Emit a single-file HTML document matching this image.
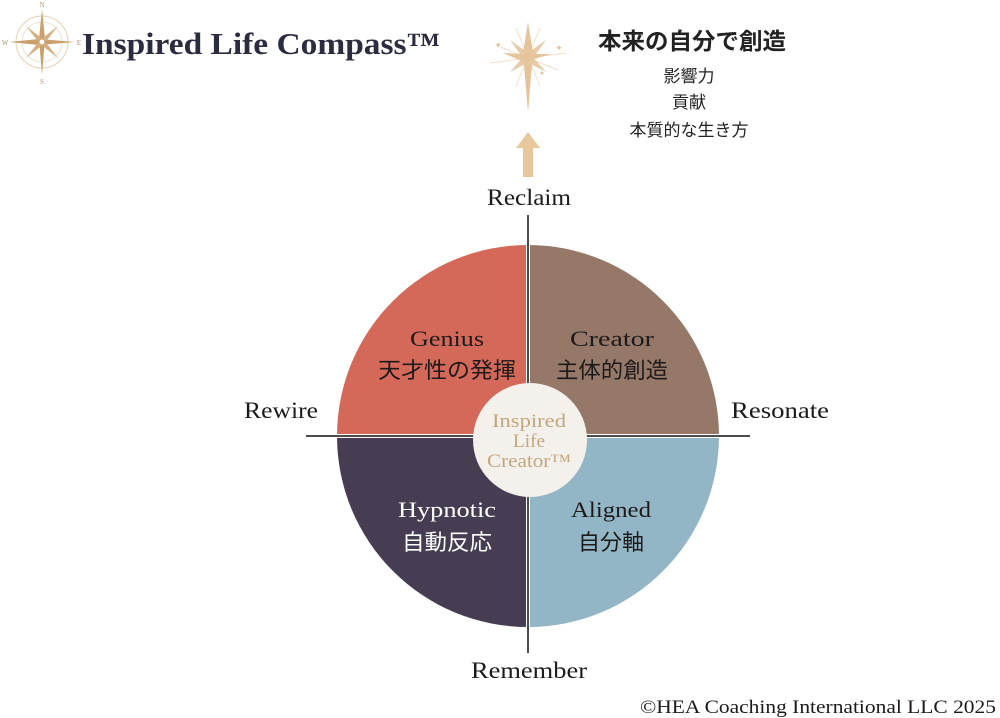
<!DOCTYPE html>
<html><head><meta charset="utf-8"><style>
html,body{margin:0;padding:0;background:#fff;}
svg{display:block;}
</style></head><body>
<svg width="1000" height="718" viewBox="0 0 1000 718" xmlns="http://www.w3.org/2000/svg">
<g transform="translate(42,42)">
  <circle r="26" fill="none" stroke="#e6d2b4" stroke-width="1"/>
  <circle r="20" fill="none" stroke="#eddcc4" stroke-width="0.8"/>
  <polygon points="0,-33 3,-3 0,33 -3,-3" fill="#c9a06c"/>
  <polygon points="-33,0 -3,-3 33,0 -3,3" fill="#c9a06c"/>
  <polygon points="-16,-16 2,-2 16,16 -2,2" fill="#d4b084"/>
  <polygon points="16,-16 2,2 -16,16 -2,-2" fill="#d4b084"/>
  <circle r="3" fill="#fff" stroke="#c9a06c"/>
  <text x="0" y="-35" font-family="Liberation Serif" font-size="7" fill="#b09070" text-anchor="middle">N</text>
  <text x="0" y="42" font-family="Liberation Serif" font-size="7" fill="#b09070" text-anchor="middle">S</text>
  <text x="-37" y="3" font-family="Liberation Serif" font-size="7" fill="#b09070" text-anchor="middle">W</text>
  <text x="37" y="3" font-family="Liberation Serif" font-size="7" fill="#b09070" text-anchor="middle">E</text>
</g>
<text x="82" y="54" font-family="Liberation Serif" font-weight="bold" font-size="31" fill="#2b2c40" textLength="358" lengthAdjust="spacingAndGlyphs">Inspired Life Compass™</text>
<g transform="translate(528,58)" fill="#e5c49c">
  <g stroke="#eed8bc" stroke-width="1" opacity="0.8">
    <line x1="-38" y1="5" x2="38" y2="-5"/><line x1="-30" y1="-12" x2="30" y2="12"/>
    <line x1="-12" y1="-30" x2="12" y2="28"/><line x1="12" y1="-30" x2="-12" y2="28"/>
  </g>
  <polygon points="0,-36 5,-5 0,54 -5,-5"/>
  <polygon points="-25,-5 -4,-4 23,-4 -4,4"/>
  <polygon points="-18,-18 3,-3 18,14 -3,3" opacity="0.9"/>
  <polygon points="18,-18 3,3 -18,14 -3,-3" opacity="0.9"/>
  <text x="-30" y="-10" font-size="9" text-anchor="middle">✦</text>
  <text x="31" y="-7" font-size="9" text-anchor="middle">✦</text>
  <text x="14" y="18" font-size="8" text-anchor="middle">✦</text>
</g>
<polygon points="528,132 540,148 533,148 533,177 523,177 523,148 516,148" fill="#e8c79c"/>
<text x="692" y="49" font-family="'Noto Sans CJK JP',sans-serif" font-weight="bold" font-size="23" fill="#222" text-anchor="middle" textLength="188" lengthAdjust="spacingAndGlyphs">本来の自分で創造</text>
<g font-family="'Noto Sans CJK JP',sans-serif" font-size="17" fill="#222" text-anchor="middle">
<text x="689" y="82">影響力</text><text x="689" y="108">貢献</text><text x="689" y="136">本質的な生き方</text>
</g>
<path d="M528,436 L337,436 A191,191 0 0 1 528,245 Z" fill="#d4695a"/>
<path d="M528,436 L528,245 A191,191 0 0 1 719,436 Z" fill="#957868"/>
<path d="M528,436 L719,436 A191,191 0 0 1 528,627 Z" fill="#93b6c6"/>
<path d="M528,436 L528,627 A191,191 0 0 1 337,436 Z" fill="#463d52"/>
<line x1="528" y1="215" x2="528" y2="653" stroke="#fff" stroke-width="4"/>
<line x1="306" y1="436" x2="750" y2="436" stroke="#fff" stroke-width="4"/>
<line x1="528" y1="215" x2="528" y2="653" stroke="#111" stroke-width="1.5"/>
<line x1="306" y1="436" x2="750" y2="436" stroke="#111" stroke-width="1.5"/>
<circle cx="530" cy="440" r="57" fill="#f4f1ec"/>
<g font-family="Liberation Serif" font-size="19" fill="#c3a67c" text-anchor="middle">
<text x="529" y="427" textLength="74" lengthAdjust="spacingAndGlyphs">Inspired</text><text x="529" y="447" textLength="32" lengthAdjust="spacingAndGlyphs">Life</text><text x="529" y="467" textLength="84" lengthAdjust="spacingAndGlyphs">Creator™</text>
</g>
<g font-family="Liberation Serif" font-size="22" text-anchor="middle">
<text x="447" y="346" fill="#1e1a1a" textLength="74" lengthAdjust="spacingAndGlyphs">Genius</text>
<text x="612" y="346" fill="#1e1a1a" textLength="84" lengthAdjust="spacingAndGlyphs">Creator</text>
<text x="447" y="517" fill="#fff" textLength="98" lengthAdjust="spacingAndGlyphs">Hypnotic</text>
<text x="611" y="517" fill="#1e1a1a" textLength="80" lengthAdjust="spacingAndGlyphs">Aligned</text>
</g>
<g font-family="'Noto Sans CJK JP',sans-serif" font-size="22" text-anchor="middle">
<text x="447" y="378" fill="#1e1a1a" textLength="138" lengthAdjust="spacingAndGlyphs">天才性の発揮</text>
<text x="612" y="378" fill="#1e1a1a" textLength="112" lengthAdjust="spacingAndGlyphs">主体的創造</text>
<text x="447" y="550" fill="#fff" textLength="90" lengthAdjust="spacingAndGlyphs">自動反応</text>
<text x="611" y="550" fill="#1e1a1a" textLength="66" lengthAdjust="spacingAndGlyphs">自分軸</text>
</g>
<g font-family="Liberation Serif" font-size="23" fill="#1e1a1a" text-anchor="middle">
<text x="529" y="205" textLength="84" lengthAdjust="spacingAndGlyphs">Reclaim</text>
<text x="281" y="418" textLength="74" lengthAdjust="spacingAndGlyphs">Rewire</text>
<text x="780" y="418" textLength="98" lengthAdjust="spacingAndGlyphs">Resonate</text>
<text x="529" y="678" textLength="116" lengthAdjust="spacingAndGlyphs">Remember</text>
</g>
<text x="996" y="713" font-family="Liberation Serif" font-size="19" fill="#1e1a1a" text-anchor="end" textLength="356" lengthAdjust="spacingAndGlyphs">©HEA Coaching International LLC 2025</text>
</svg>
</body></html>
